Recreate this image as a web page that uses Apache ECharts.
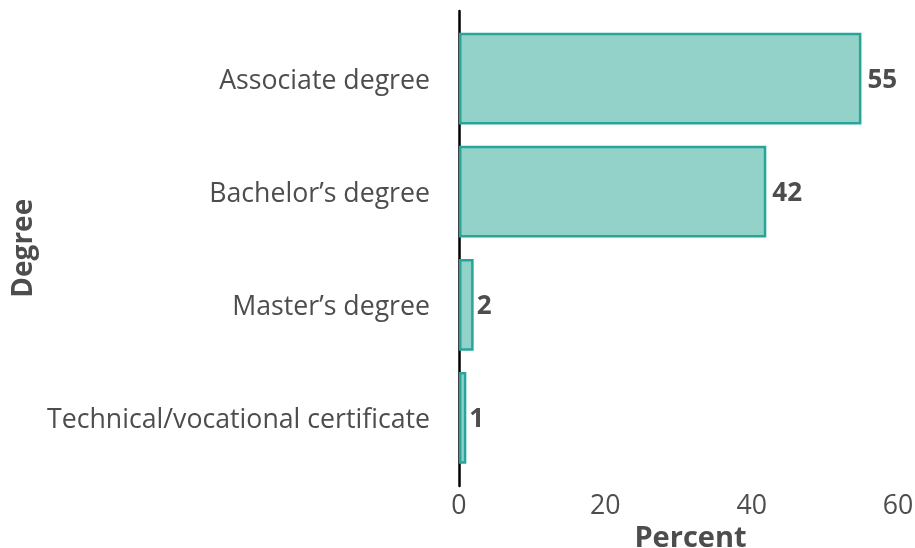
<!DOCTYPE html>
<html><head><meta charset="utf-8">
<script src="https://cdn.jsdelivr.net/npm/echarts@6/dist/echarts.min.js"></script>
<style>html,body{margin:0;padding:0;background:#fff}#c{width:915px;height:548px}</style>
</head><body><div id="c"></div>
<script>
const categories = ["Associate degree", "Bachelor\u2019s degree", "Master\u2019s degree", "Technical/vocational certificate"];
const values = [55, 42, 2, 1];
const xTicks = [0, 20, 40, 60];

const FONT = "Open Sans";
// label offset proportional to label text width (like a ggplot hjust nudge)
const barData = values.map(v => ({value: v, label: {distance: String(v).length * 3}}));

const chart = echarts.init(document.getElementById('c'));
chart.setOption({
  animation: false,
  backgroundColor: '#fff',
  grid: [
    {left: 459, right: 17, top: 22, bottom: 73.5, containLabel: false, outerBoundsMode: 'none'},
    {left: 459, right: 17, top: 11, bottom: 62, containLabel: false, outerBoundsMode: 'none'}
  ],
  xAxis: [
    {
      gridIndex: 0, type: 'value', min: xTicks[0], max: xTicks[xTicks.length-1], interval: 20,
      axisLine: {show: false}, axisTick: {show: false}, splitLine: {show: false},
      axisLabel: {fontFamily: FONT, fontSize: 26.7, color: '#4d4d4d', margin: 18},
      name: 'Percent', nameLocation: 'middle', nameGap: 47,
      nameTextStyle: {fontFamily: FONT, fontSize: 29, fontWeight: 'bold', color: '#4d4d4d', padding: [0, 0, 0, 24]}
    },
    {
      gridIndex: 1, type: 'value', min: 0, max: 60, show: false
    }
  ],
  yAxis: [
    {
      gridIndex: 0, type: 'category', data: categories, inverse: true,
      axisLine: {show: false}, axisTick: {show: false},
      axisLabel: {fontFamily: FONT, fontSize: 26.7, color: '#4d4d4d', margin: 29, verticalAlign: 'top', lineHeight: 26.7, padding: [-11, 0, 0, 0]},
      name: 'Degree', nameLocation: 'middle', nameGap: 420.5, nameRotate: 90,
      nameTextStyle: {fontFamily: FONT, fontSize: 28, fontWeight: 'bold', color: '#4d4d4d'}
    },
    {
      gridIndex: 1, type: 'category', data: categories, inverse: true,
      axisLine: {show: true, lineStyle: {color: '#000', width: 2.5}},
      axisTick: {show: false}, axisLabel: {show: false}
    }
  ],
  series: [{
    type: 'bar', xAxisIndex: 0, yAxisIndex: 0,
    data: barData,
    barCategoryGap: '19%',
    itemStyle: {color: '#93d2c8', borderColor: '#26a69a', borderWidth: 2.5},
    label: {show: true, position: 'right', distance: 6, offset: [0, 2], fontFamily: FONT, fontSize: 26, fontWeight: 'bold', color: '#4d4d4d'}
  }]
});
</script></body></html>
